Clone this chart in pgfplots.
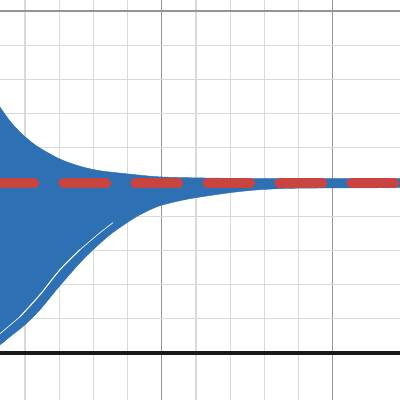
\documentclass[border=0pt]{standalone}
\usepackage{pgfplots}
\pgfplotsset{compat=1.18}
\usepgfplotslibrary{fillbetween}
\definecolor{dblue}{HTML}{2D70B3}
\definecolor{dred}{HTML}{C74440}
\begin{document}
\begin{tikzpicture}
\begin{axis}[
  width=10cm, height=10cm, scale only axis,
  xmin=0.269, xmax=11.965, ymin=-1.374, ymax=10.322,
  xtick={0,5,10}, ytick={0,5,10}, minor tick num=4,
  xticklabels={}, yticklabels={},
  major tick length=0pt, minor tick length=0pt,
  grid=both,
  major grid style={draw=black!42, line width=0.9pt},
  minor grid style={draw=black!15, line width=0.8pt},
  axis line style={draw=none},
]
% upper and lower edges of the band of curves
\addplot[name path=up, draw=dblue, line width=0.3pt, smooth] coordinates {
  (-0.023,7.60) (0.269,7.19) (0.561,6.78) (0.854,6.46) (1.146,6.20)
  (1.439,5.99) (2.023,5.67) (2.608,5.46) (3.193,5.33) (4.070,5.23)
  (4.947,5.15) (6.117,5.12) (7.871,5.10) (11.965,5.10) (12.5,5.10)};
\addplot[name path=lo, draw=dblue, line width=0.3pt, smooth] coordinates {
  (-0.023,0.15) (0.269,0.243) (0.561,0.477) (0.999,0.827) (1.439,1.266)
  (1.994,1.939) (2.608,2.640) (2.988,3.020) (3.485,3.459) (3.982,3.810)
  (4.363,4.044) (4.947,4.307) (5.825,4.512) (6.994,4.687) (7.871,4.775)
  (9.041,4.819) (11.965,4.833) (12.5,4.833)};
\addplot[dblue] fill between[of=up and lo];
% thin gap inside the band
\addplot[white, line width=0.45pt, smooth] coordinates {
  (0.20,0.50) (0.269,0.564) (0.854,1.061)};
\addplot[white, line width=0.75pt, smooth] coordinates {
  (0.854,1.061) (1.439,1.705) (2.023,2.436) (2.608,3.020)};
\addplot[white, line width=0.45pt, smooth] coordinates {
  (2.608,3.020) (3.193,3.518) (3.573,3.810)};
% x axis
\addplot[black!90, line width=2.4pt] coordinates {(0,0) (12.5,0)};
% asymptote
\addplot[dred, line width=7.2pt, line cap=round, dash pattern=on 1.075cm off 0.725cm]
  coordinates {(0.015,4.965) (12.5,4.965)};
\end{axis}
\pgfresetboundingbox
\path (current axis.south west) rectangle (current axis.north east);
\end{tikzpicture}
\end{document}
